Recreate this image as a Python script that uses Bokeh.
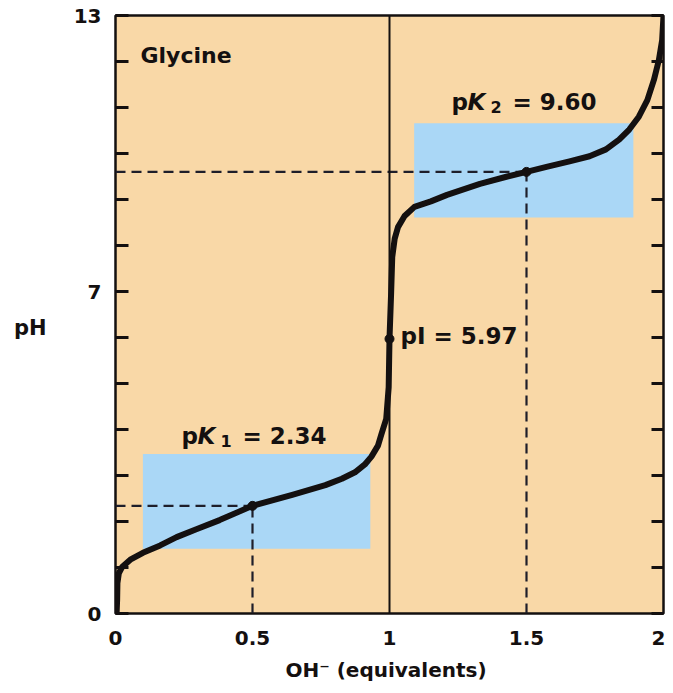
from bokeh.plotting import figure
from bokeh.models import Range1d, FixedTicker, LinearAxis, Label, Span
from bokeh.embed import file_html
from bokeh.resources import INLINE

# ---- data ----
equiv = [0.004, 0.006, 0.007, 0.012, 0.024, 0.054, 0.100, 0.163, 0.223, 0.295,
         0.380, 0.500, 0.645, 0.766, 0.826, 0.874, 0.910, 0.934, 0.958, 0.970,
         0.988, 0.997, 1.000, 1.006, 1.010, 1.019, 1.031, 1.055, 1.091, 1.151,
         1.210, 1.330, 1.430, 1.500, 1.573, 1.657, 1.730, 1.790, 1.838, 1.875,
         1.910, 1.941, 1.965, 1.983, 1.995, 2.000]
ph = [0.00, 0.30, 0.66, 0.87, 1.01, 1.17, 1.32, 1.48, 1.66, 1.83,
      2.03, 2.34, 2.58, 2.79, 2.93, 3.07, 3.24, 3.41, 3.65, 3.89,
      4.23, 4.92, 5.97, 6.98, 7.75, 8.15, 8.40, 8.64, 8.84, 8.96,
      9.10, 9.34, 9.50, 9.60, 9.71, 9.83, 9.94, 10.09, 10.30, 10.52,
      10.80, 11.16, 11.60, 12.03, 12.46, 13.00]

pk_equiv = [0.5, 1.5]
pk_values = [2.34, 9.60]
pk_names = ["1", "2"]
pi_equiv = 1.0
pi_value = 5.97

box_left = [0.10, 1.09]
box_right = [0.93, 1.89]
box_bottom = [1.41, 8.61]
box_top = [3.47, 10.66]

x_ticks = [0, 0.5, 1, 1.5, 2]
x_tick_labels = ["0", "0.5", "1", "1.5", "2"]
y_ticks = list(range(0, 14))
y_tick_labels = {0: "0", 7: "7", 13: "13"}
y_title = "pH"
y_title_at = 6.2

FONT = "DejaVu Sans"
BG = "#F9D8A7"
BLUE = "#AAD7F6"
INK = "#141010"
DASH = "#1E1E2A"

p = figure(frame_width=548, frame_height=598,
           x_range=Range1d(0, 2), y_range=Range1d(0, 13),
           output_backend="svg", toolbar_location=None,
           min_border_left=115, min_border_top=15, min_border_right=2,
           min_border_bottom=0)
p.background_fill_color = BG
p.border_fill_color = "white"
p.outline_line_color = INK
p.outline_line_width = 2.5
p.xgrid.visible = False
p.ygrid.visible = False

# bottom axis
xa = p.xaxis[0]
xa.ticker = FixedTicker(ticks=x_ticks, minor_ticks=[])
xa.major_label_overrides = {t: l for t, l in zip(x_ticks, x_tick_labels)}
xa.major_tick_in = 0
xa.major_tick_out = 0
xa.axis_line_color = None
xa.major_label_standoff = 17
xa.major_label_text_font = FONT
xa.major_label_text_font_style = "bold"
xa.major_label_text_font_size = "20px"
xa.major_label_text_color = INK
xa.axis_label = "OH\u207b  (equivalents)"
xa.axis_label_text_font = FONT
xa.axis_label_text_font_style = "bold"
xa.axis_label_text_font_size = "20px"
xa.axis_label_text_color = INK
xa.axis_label_standoff = 10

# left axis (ticks inside)
ya = p.yaxis[0]
ya.ticker = FixedTicker(ticks=y_ticks, minor_ticks=[])
ya.major_label_overrides = {t: y_tick_labels.get(t, "") for t in y_ticks}
ya.major_tick_in = 13
ya.major_tick_out = 0
ya.major_tick_line_width = 3
ya.major_tick_line_color = INK
ya.axis_line_color = None
ya.major_label_standoff = 14
ya.major_label_text_font = FONT
ya.major_label_text_font_style = "bold"
ya.major_label_text_font_size = "20px"
ya.major_label_text_color = INK

# horizontal "pH" title as an outer left axis
ta = LinearAxis(ticker=FixedTicker(ticks=[y_title_at], minor_ticks=[]))
ta.major_label_overrides = {y_title_at: y_title}
ta.major_label_orientation = "horizontal"
ta.major_tick_in = 0
ta.major_tick_out = 0
ta.axis_line_color = None
ta.major_label_standoff = 24
ta.major_label_text_font = FONT
ta.major_label_text_font_style = "bold"
ta.major_label_text_font_size = "21px"
ta.major_label_text_color = INK
p.add_layout(ta, "left")

# right axis (ticks inside, no labels)
ra = LinearAxis(ticker=FixedTicker(ticks=y_ticks, minor_ticks=[]))
ra.major_label_overrides = {t: "" for t in y_ticks}
ra.major_label_text_font_size = "0px"
ra.major_label_standoff = 0
ra.major_tick_in = 12
ra.major_tick_out = 0
ra.major_tick_line_width = 3
ra.major_tick_line_color = INK
ra.axis_line_color = None
p.add_layout(ra, "right")

# blue buffer regions
p.quad(left=box_left, right=box_right, bottom=box_bottom, top=box_top,
       fill_color=BLUE, line_color=None)

# dashed guide lines
p.segment(x0=[0] * len(pk_equiv), y0=pk_values, x1=pk_equiv, y1=pk_values,
          line_color=DASH, line_width=2.2, line_dash="10 6")
p.segment(x0=pk_equiv, y0=[0] * len(pk_equiv), x1=pk_equiv, y1=pk_values,
          line_color=DASH, line_width=2.2, line_dash="10 6")

# vertical line at 1 equivalent
p.add_layout(Span(location=pi_equiv, dimension="height", line_color=INK, line_width=2))

# titration curve
p.line(equiv, ph, line_color=INK, line_width=6, line_join="round", line_cap="round")

# points
p.scatter(pk_equiv + [pi_equiv], pk_values + [pi_value], size=9, color=INK)

# texts
def lab(x, y, text, dx=0, dy=0, size="23px", style="bold", baseline="alphabetic", align="left"):
    p.add_layout(Label(x=x, y=y, text=text, x_offset=dx, y_offset=dy,
                       text_font=FONT, text_font_style=style, text_font_size=size,
                       text_color=INK, text_baseline=baseline, text_align=align))

for xe, v, n, start in zip(pk_equiv, pk_values, pk_names, [-71, -75]):
    lab(xe, v, "p", start, 70)
    lab(xe, v, "K", start + 16, 70, style="bold italic")
    lab(xe, v, n, start + 39, 65, size="16px")
    lab(xe, v, "= %.2f" % v, start + 61, 70)

lab(pi_equiv, pi_value, "pI = %.2f" % pi_value, 11, 3, baseline="middle")
lab(0, 13, "Glycine", 25, -40, size="22px")

open("out.html", "w").write(file_html(p, INLINE))
